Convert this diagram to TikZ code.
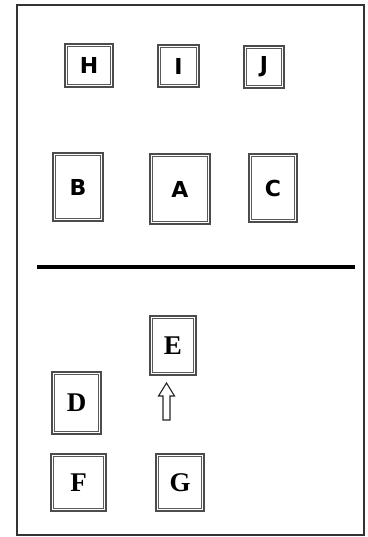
\documentclass[tikz,border=0pt]{standalone}
\usepackage{fontspec}
\newfontfamily\topfont{DejaVu Sans}
\newfontfamily\botfont{Liberation Serif}
\newcommand\topsize{\fontsize{22}{22}\selectfont}
\newcommand\botsize{\fontsize{27}{27}\selectfont}
\begin{document}
\begin{tikzpicture}[x=1pt,y=-1pt,
  boxline/.style={draw=black!70, line width=2.2pt, fill=white},
  topbox/.style={boxline, inner sep=0pt, font=\topfont\bfseries\topsize},
  botbox/.style={boxline, inner sep=0pt, font=\botfont\bfseries\botsize},
  innerline/.style={draw=black!65, line width=1pt},
  frameline/.style={draw=black!80, line width=1.3pt},
  arrowline/.style={draw=black!85, line width=1.1pt, fill=white}]
\useasboundingbox (0,0) rectangle (367,537);
\draw[frameline] (17,5) rectangle (364,535);
\draw[line width=4pt, black] (37,267) -- (355,267);
% top boxes
\node[topbox, minimum width=48pt, minimum height=43pt] (H) at (89,65.5) {H};
\node[topbox, minimum width=41pt, minimum height=42pt] (I) at (178.5,66) {I};
\node[topbox, minimum width=40pt, minimum height=42pt] (J) at (264,67) {J};
\node[topbox, minimum width=50pt, minimum height=68pt] (B) at (78,187) {B};
\node[topbox, minimum width=60pt, minimum height=70pt, line width=2.6pt] (A) at (180,189) {A};
\node[topbox, minimum width=48pt, minimum height=68pt] (C) at (273,188) {C};
% bottom boxes
\node[botbox, minimum width=46pt, minimum height=59pt] (E) at (173,345.5) {E};
\node[botbox, minimum width=49pt, minimum height=62pt] (D) at (76.5,403) {D};
\node[botbox, minimum width=55pt, minimum height=57pt] (F) at (78.5,482.5) {F};
\node[botbox, minimum width=48pt, minimum height=57pt] (G) at (180,482.5) {G};
\foreach \n in {H,I,J,B,A,C,E,D,F,G}{
  \draw[innerline] ([shift={(3.4pt,-3.4pt)}]\n.north west) rectangle ([shift={(-3.4pt,3.4pt)}]\n.south east);
}
% up arrow
\draw[arrowline] (166.5,383) -- (174.5,396) -- (170,396) -- (170,420) -- (163,420) -- (163,396) -- (158.5,396) -- cycle;
\end{tikzpicture}
\end{document}
